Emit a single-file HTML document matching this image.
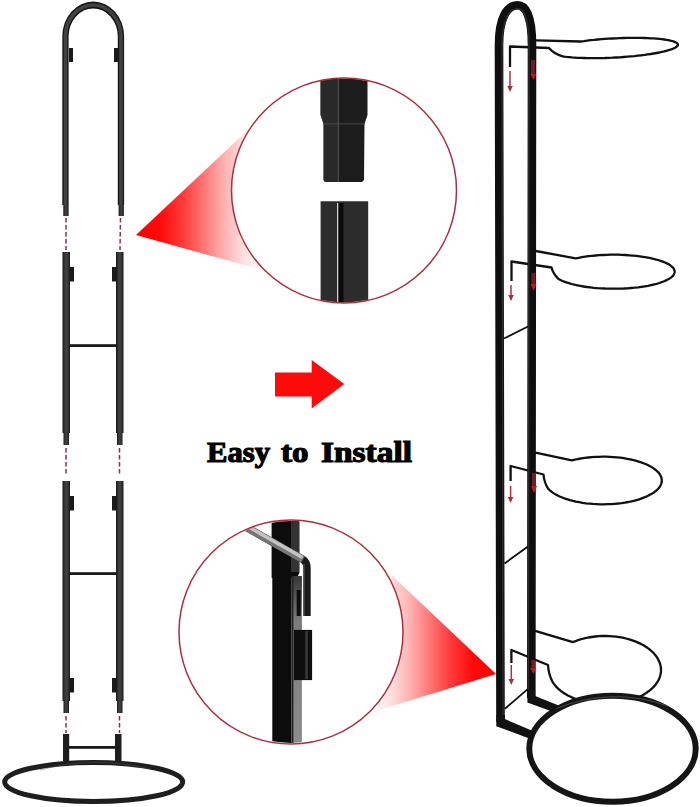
<!DOCTYPE html>
<html><head><meta charset="utf-8">
<style>
html,body{margin:0;padding:0;background:#fff;}
body{width:700px;height:807px;overflow:hidden;position:relative;font-family:"Liberation Serif",serif;}
svg{position:absolute;left:0;top:0;}
</style></head>
<body>
<svg width="700" height="807" viewBox="0 0 700 807">
<defs>
  <linearGradient id="g1" x1="136" y1="0" x2="255" y2="0" gradientUnits="userSpaceOnUse">
    <stop offset="0" stop-color="#ff0000"/>
    <stop offset="0.2" stop-color="#ff0a0a"/>
    <stop offset="0.4" stop-color="#ff3c3c"/>
    <stop offset="0.58" stop-color="#ff7a7a"/>
    <stop offset="0.75" stop-color="#ffb4b4"/>
    <stop offset="0.9" stop-color="#ffdede"/>
    <stop offset="1" stop-color="#fff2f2"/>
  </linearGradient>
  <linearGradient id="g2" x1="496" y1="0" x2="380" y2="0" gradientUnits="userSpaceOnUse">
    <stop offset="0" stop-color="#ff0000"/>
    <stop offset="0.2" stop-color="#ff0a0a"/>
    <stop offset="0.4" stop-color="#ff3c3c"/>
    <stop offset="0.58" stop-color="#ff7a7a"/>
    <stop offset="0.75" stop-color="#ffb4b4"/>
    <stop offset="0.9" stop-color="#ffdede"/>
    <stop offset="1" stop-color="#fff2f2"/>
  </linearGradient>
  <linearGradient id="tube" x1="0" y1="0" x2="1" y2="0">
    <stop offset="0" stop-color="#2a2a2a"/>
    <stop offset="0.5" stop-color="#444"/>
    <stop offset="1" stop-color="#2a2a2a"/>
  </linearGradient>
  <clipPath id="c1"><circle cx="344" cy="190.5" r="112"/></clipPath>
  <clipPath id="c2"><circle cx="291" cy="632" r="111"/></clipPath>
</defs>

<!-- ===== LEFT STAND ===== -->
<defs>
  <linearGradient id="tb" x1="0" y1="0" x2="1" y2="0">
    <stop offset="0" stop-color="#161616"/>
    <stop offset="0.2" stop-color="#2e2e2e"/>
    <stop offset="0.5" stop-color="#434343"/>
    <stop offset="0.8" stop-color="#303030"/>
    <stop offset="1" stop-color="#161616"/>
  </linearGradient>
</defs>
<g>
  <!-- arch -->
  <path d="M62.3,205 L62.3,36.5 A30.9,35 0 0 1 124.1,36.5 L124.1,205 L117.8,205 L117.8,36.5 A24.6,28.1 0 0 0 68.6,36.5 L68.6,205 Z" fill="#161616"/>
  <path d="M65.45,205 L65.45,36.5 A27.75,31.5 0 0 1 120.95,36.5 L120.95,205" fill="none" stroke="#414141" stroke-width="3.6"/>
  <rect x="63.3" y="205" width="5.3" height="11" fill="url(#tb)"/>
  <rect x="118.6" y="205" width="5.3" height="11" fill="url(#tb)"/>
  <rect x="69" y="48" width="4" height="14" fill="#1a1a1a"/>
  <rect x="114" y="48" width="4" height="14" fill="#1a1a1a"/>
  <!-- section 2 -->
  <rect x="62.5" y="252" width="7.5" height="181" fill="url(#tb)"/>
  <rect x="116" y="252" width="7.5" height="181" fill="url(#tb)"/>
  <rect x="63.5" y="433" width="5.5" height="12" fill="url(#tb)"/>
  <rect x="117" y="433" width="5.5" height="12" fill="url(#tb)"/>
  <rect x="69.5" y="267" width="4.5" height="14.5" fill="#1a1a1a"/>
  <rect x="112" y="267" width="4.5" height="14.5" fill="#1a1a1a"/>
  <rect x="69" y="344.2" width="48" height="2.8" fill="#1a1a1a"/>
  <!-- section 3 -->
  <rect x="62.5" y="481" width="7.5" height="220" fill="url(#tb)"/>
  <rect x="116" y="481" width="7.5" height="220" fill="url(#tb)"/>
  <rect x="63.5" y="701" width="5.5" height="12" fill="url(#tb)"/>
  <rect x="117" y="701" width="5.5" height="12" fill="url(#tb)"/>
  <rect x="69.5" y="496" width="4.5" height="14.5" fill="#1a1a1a"/>
  <rect x="112" y="496" width="4.5" height="14.5" fill="#1a1a1a"/>
  <rect x="69" y="572.2" width="48" height="2.8" fill="#1a1a1a"/>
  <rect x="69.5" y="678" width="4.5" height="14.5" fill="#1a1a1a"/>
  <rect x="112" y="678" width="4.5" height="14.5" fill="#1a1a1a"/>
  <!-- bottom stubs -->
  <rect x="63" y="734" width="6.2" height="27" fill="#1e1e1e"/>
  <rect x="115" y="734" width="6.5" height="27" fill="#1e1e1e"/>
  <rect x="69" y="746" width="46.5" height="2.8" fill="#1a1a1a"/>
</g>
<g stroke="#8e2f4a" stroke-width="1.5" stroke-dasharray="4.5 2.5">
  <line x1="66" y1="218" x2="66" y2="250"/>
  <line x1="120.5" y1="218" x2="120" y2="250"/>
  <line x1="66" y1="448" x2="66" y2="476"/>
  <line x1="119.5" y1="448" x2="119.5" y2="476"/>
  <line x1="66" y1="716" x2="66" y2="733"/>
  <line x1="119.5" y1="716" x2="119.5" y2="733"/>
</g>
<ellipse cx="93.7" cy="782" rx="89" ry="19.5" fill="none" stroke="#1e1e1e" stroke-width="5"/>

<!-- ===== TRIANGLES ===== -->
<polygon points="136,235 250,128 262,270" fill="url(#g1)"/>
<polygon points="496,674 392,575.5 376,711" fill="url(#g2)"/>

<!-- ===== CIRCLE 1 ===== -->
<circle cx="344" cy="190.5" r="112.5" fill="#fff"/>
<g clip-path="url(#c1)">
  <path d="M320.6,70 L367.5,70 L367.5,115 L364.5,124 L364,180 L362,182 L325,182 L323.6,180 L323.6,124 L320.6,115 Z" fill="#1d1d1d"/>
  <path d="M320.6,70 L338,70 L338,182 L325,182 L323.6,180 L323.6,124 L320.6,115 Z" fill="#292929"/>
  <rect x="337.8" y="76" width="1" height="106" fill="#5a5a5a"/>
  <rect x="323.6" y="123.5" width="41" height="0.8" fill="#555"/>
  <path d="M320.6,201.2 L368.2,201.2 L368.2,310 L320.6,310 Z" fill="#2c2c2c"/>
  <rect x="337" y="203" width="1.5" height="105" fill="#d0d0d0"/>
  <rect x="338.5" y="203" width="5" height="105" fill="#0a0a0a"/>
</g>
<circle cx="344" cy="190.5" r="112.5" fill="none" stroke="#a8303e" stroke-width="1.5"/>

<!-- ===== CIRCLE 2 ===== -->
<circle cx="291" cy="632" r="112" fill="#fff"/>
<defs>
  <linearGradient id="strip" x1="0" y1="579" x2="0" y2="742" gradientUnits="userSpaceOnUse">
    <stop offset="0" stop-color="#3a3a3a"/>
    <stop offset="0.25" stop-color="#7a7a7a"/>
    <stop offset="1" stop-color="#8c8c8c"/>
  </linearGradient>
</defs>
<g clip-path="url(#c2)">
  <path d="M271.6,515 L299.3,515 L299.3,573 L297,578 L271.6,578 Z" fill="#0c0c0c"/>
  <rect x="291" y="515" width="8.3" height="57" fill="#333"/>
  <rect x="272.3" y="577.5" width="19.3" height="172" fill="#0c0c0c"/>
  <rect x="291.6" y="576" width="10.3" height="173" fill="url(#strip)"/>
  <rect x="291.6" y="576" width="1.8" height="173" fill="#222"/>
  <path d="M244,526 L303,559.5 Q307,562 307,568 L307,616" fill="none" stroke="#1a1a1a" stroke-width="7.4" stroke-linejoin="round"/>
  <path d="M244,526 L303,559.5" fill="none" stroke="#767676" stroke-width="7.6"/>
  <path d="M244,524.3 L302.5,557.5" fill="none" stroke="#c4c4c4" stroke-width="3.4"/>
  <path d="M304,564 L304,616" fill="none" stroke="#555" stroke-width="1.2"/>
  <rect x="296.7" y="590" width="4" height="26" fill="#0c0c0c"/>
  <rect x="293.9" y="629.9" width="18.2" height="50.2" fill="#0e0e0e"/>
  <rect x="305.3" y="631" width="2.5" height="48" fill="#3a3a3a"/>
</g>
<circle cx="291" cy="632" r="112" fill="none" stroke="#a8303e" stroke-width="1.5"/>

<!-- ===== CENTER ARROW ===== -->
<polygon points="275,372.6 311.7,372.6 311.7,360 344.3,384 311.7,408.6 311.7,396.6 275,396.6" fill="#fd0b0b"/>

<!-- rings (thin wire) -->
<g fill="none" stroke="#111" stroke-width="2.3" stroke-linejoin="round">
  <path d="M536.0,40.4 L580.7,41.5 L584.0,41.1 L587.3,40.6 L590.7,40.2 L594.2,39.9 L597.7,39.5 L601.4,39.2 L605.0,38.9 L608.7,38.7 L612.4,38.5 L616.1,38.3 L619.8,38.1 L623.5,38.0 L627.1,37.9 L630.7,37.9 L634.3,37.8 L637.8,37.9 L641.2,37.9 L644.5,38.0 L647.7,38.1 L650.8,38.3 L653.7,38.4 L656.6,38.6 L659.3,38.9 L661.8,39.2 L664.2,39.5 L666.4,39.8 L668.4,40.2 L670.3,40.6 L671.9,41.0 L673.4,41.4 L674.7,41.9 L675.7,42.4 L676.6,42.8 L677.2,43.4 L677.7,43.9 L677.9,44.4 L677.9,45.0 L677.7,45.6 L677.2,46.1 L676.6,46.7 L675.8,47.3 L674.7,47.9 L673.4,48.5 L672.0,49.1 L670.3,49.7 L668.5,50.2 L666.4,50.8 L664.2,51.4 L661.9,51.9 L659.3,52.5 L656.6,53.0 L653.8,53.5 L650.8,54.0 L647.7,54.4 L644.5,54.9 L641.2,55.3 L637.8,55.7 L634.4,56.1 L630.8,56.4 L627.2,56.7 L623.6,57.0 L619.9,57.3 L616.2,57.5 L612.5,57.7 L608.8,57.8 L605.1,58.0 L601.4,58.1 L597.8,58.1 L594.3,58.2 L590.8,58.1 L587.4,58.1 L584.0,58.0 L580.8,57.9 L577.7,57.8 L574.7,57.6 L571.9,57.4 L569.1,57.1 L566.6,56.9 L564.2,56.6 L561.9,56.2 Q553.0,53.0 549.0,48.0 L510.0,46.5 L510.0,67.0"/>
  <path d="M535.7,251.0 L575.7,258.4 L578.8,257.8 L581.9,257.2 L585.2,256.7 L588.6,256.2 L592.1,255.8 L595.6,255.5 L599.3,255.2 L603.0,255.0 L606.7,254.8 L610.4,254.7 L614.2,254.7 L618.0,254.7 L621.7,254.8 L625.5,255.0 L629.1,255.3 L632.8,255.6 L636.3,255.9 L639.8,256.3 L643.1,256.8 L646.4,257.3 L649.5,257.9 L652.5,258.6 L655.3,259.3 L658.0,260.0 L660.5,260.8 L662.8,261.6 L665.0,262.5 L666.9,263.4 L668.7,264.3 L670.2,265.3 L671.5,266.3 L672.6,267.3 L673.5,268.3 L674.1,269.3 L674.5,270.4 L674.7,271.4 L674.6,272.5 L674.3,273.5 L673.8,274.6 L673.1,275.6 L672.1,276.6 L670.9,277.6 L669.5,278.6 L667.8,279.5 L666.0,280.4 L664.0,281.3 L661.7,282.2 L659.3,283.0 L656.7,283.8 L654.0,284.5 L651.1,285.1 L648.0,285.8 L644.8,286.3 L641.5,286.8 L638.1,287.3 L634.6,287.7 L631.0,288.0 L627.4,288.3 L623.7,288.5 L619.9,288.6 L616.2,288.7 L612.4,288.7 L608.6,288.6 L604.9,288.5 L601.2,288.3 L597.5,288.1 L593.9,287.8 L590.4,287.4 L586.9,287.0 L583.6,286.5 L580.4,285.9 L577.3,285.3 L574.3,284.7 L571.5,284.0 L568.9,283.2 L566.4,282.4 L564.1,281.6 L562.0,280.7 L560.1,279.8 L558.4,278.9 Q553.0,273.5 551.5,267.5 L511.5,261.5 L511.5,281.0"/>
  <path d="M534.3,452.4 L571.8,460.4 L574.9,459.7 L578.1,459.0 L581.4,458.4 L584.8,457.9 L588.3,457.5 L591.8,457.2 L595.4,456.9 L598.9,456.8 L602.6,456.7 L606.2,456.7 L609.8,456.8 L613.3,457.1 L616.9,457.4 L620.4,457.7 L623.8,458.2 L627.1,458.8 L630.4,459.4 L633.5,460.1 L636.5,460.9 L639.4,461.8 L642.2,462.7 L644.8,463.7 L647.3,464.8 L649.6,466.0 L651.7,467.1 L653.6,468.4 L655.4,469.7 L656.9,471.0 L658.3,472.3 L659.4,473.7 L660.3,475.2 L661.0,476.6 L661.5,478.0 L661.7,479.5 L661.8,481.0 L661.6,482.4 L661.2,483.9 L660.6,485.3 L659.7,486.8 L658.7,488.2 L657.4,489.5 L655.9,490.9 L654.3,492.2 L652.4,493.4 L650.3,494.6 L648.1,495.8 L645.7,496.9 L643.1,497.9 L640.4,498.9 L637.6,499.8 L634.6,500.6 L631.5,501.3 L628.3,502.0 L624.9,502.6 L621.6,503.1 L618.1,503.5 L614.6,503.8 L611.0,504.1 L607.4,504.2 L603.8,504.3 L600.2,504.3 L596.6,504.1 L593.0,503.9 L589.5,503.6 L586.0,503.3 L582.6,502.8 L579.3,502.2 L576.0,501.6 L572.9,500.9 L569.8,500.1 L566.9,499.2 L564.2,498.3 L561.6,497.2 L559.1,496.2 L556.8,495.0 L554.7,493.9 L552.8,492.6 L551.0,491.3 L549.5,490.0 L548.1,488.6 Q544.0,482.0 543.5,474.5 L510.6,466.0 L510.6,481.0"/>
  <path d="M534.3,630.7 L572.9,642.1 L575.8,641.0 L578.8,639.9 L581.9,639.0 L585.2,638.2 L588.5,637.5 L591.8,637.0 L595.2,636.5 L598.7,636.2 L602.1,636.0 L605.6,636.0 L609.1,636.1 L612.6,636.3 L616.0,636.7 L619.4,637.1 L622.7,637.7 L626.0,638.5 L629.2,639.3 L632.3,640.3 L635.2,641.4 L638.1,642.6 L640.9,643.9 L643.5,645.3 L645.9,646.8 L648.2,648.4 L650.3,650.0 L652.3,651.8 L654.1,653.6 L655.6,655.5 L657.0,657.4 L658.2,659.4 L659.2,661.5 L660.0,663.5 L660.5,665.6 L660.9,667.7 L661.0,669.8 L660.9,671.9 L660.6,674.0 L660.1,676.1 L659.4,678.2 L658.4,680.2 L657.3,682.2 L655.9,684.2 L654.4,686.1 L652.6,687.9 L650.7,689.7 L648.6,691.3 L646.3,692.9 L643.9,694.5 L641.3,695.9 L638.6,697.2 L635.8,698.4 L632.8,699.5 L629.7,700.5 L626.5,701.4 L623.3,702.1 L620.0,702.8 L616.6,703.3 L613.2,703.6 L609.7,703.9 L606.2,704.0 L602.7,704.0 L599.3,703.8 L595.8,703.5 L592.4,703.1 L589.0,702.6 L585.7,701.9 L582.5,701.1 L579.4,700.2 L576.3,699.2 L573.4,698.1 L570.6,696.8 L567.9,695.5 L565.4,694.0 L563.0,692.5 L560.8,690.8 L558.7,689.1 L556.8,687.4 L555.2,685.5 L553.7,683.6 L552.4,681.6 Q548.5,674.0 548.0,665.0 L511.4,650.0 L511.4,663.0"/>
</g>
<!-- base ring -->
<ellipse cx="612.5" cy="748.7" rx="83.2" ry="53" fill="#fff" stroke="#151515" stroke-width="6"/>

<path d="M555,709 Q612,686 668,706" fill="none" stroke="#5a5a5a" stroke-width="1" opacity="0.8"/>
<path d="M40,770 Q93,755 150,769" fill="none" stroke="#555" stroke-width="0.8" opacity="0.6"/>
<!-- ===== RIGHT STRUCTURE ===== -->
<g fill="none" stroke="#0e0e0e" stroke-linecap="butt" stroke-linejoin="miter">
  <!-- left post + arch + right post -->
  <path d="M500.5,722 L499,45 C499,18 507,5.3 517.5,5.3 C527,5.3 532,20 532,45 L531.3,698" stroke-width="8.6"/>
  <path d="M503,720 L502,45 C502,22 509,8.5 517.5,8.5 C525,8.5 529,22 529,45 L528.3,695" stroke="#2c2c2c" stroke-width="1.4" fill="none"/>
  <!-- bottom bars -->
  <polygon points="496.3,726.2 504.9,719.1 534,731.6 532,739.6" fill="#121212" stroke="none"/>
  <polygon points="527.4,702.4 535.1,696 560,706 552,711.5" fill="#121212" stroke="none"/>
  <rect x="496.3" y="715" width="8.6" height="11.2" fill="#121212" stroke="none"/>
  <rect x="527.4" y="690" width="7.7" height="12.4" fill="#121212" stroke="none"/>
  <!-- diagonal wires -->
  <line x1="504" y1="338.5" x2="528" y2="326.5" stroke-width="1.8"/>
  <line x1="504.5" y1="563.5" x2="528" y2="546.5" stroke-width="1.8"/>
  <line x1="504.9" y1="708.8" x2="528" y2="688.9" stroke-width="1.8"/>
</g>
<!-- red arrows -->
<g stroke="#a8303e" stroke-width="1.5" fill="#a8303e">
  <line x1="510" y1="71" x2="510" y2="87"/>
  <polygon points="507.2,86 512.8,86 510,92" stroke="none"/>
  <line x1="511" y1="285" x2="511" y2="296"/>
  <polygon points="508.2,295 513.8,295 511,301" stroke="none"/>
  <line x1="510.6" y1="486" x2="510.6" y2="498"/>
  <polygon points="507.8,497 513.4,497 510.6,503" stroke="none"/>
  <line x1="511.3" y1="665" x2="511.3" y2="680"/>
  <polygon points="508.5,679 514.1,679 511.3,685" stroke="none"/>
</g>
<g>
  <rect x="531" y="60" width="4" height="15" fill="#701c26"/>
  <polygon points="530.3,74 536.3,74 533.3,80" fill="#b81a22"/>
  <rect x="531.5" y="273" width="4" height="12" fill="#701c26"/>
  <polygon points="530.5,284 536.5,284 533.5,291" fill="#b81a22"/>
  <rect x="532" y="473" width="4" height="13" fill="#701c26"/>
  <polygon points="531,486 537,486 534,493" fill="#b81a22"/>
  <rect x="531.3" y="660" width="4" height="9" fill="#701c26"/>
  <polygon points="530.3,668 536.3,668 533.3,674" fill="#b81a22"/>
</g>
<g font-family="Liberation Serif" font-weight="bold" font-size="29" fill="#000" stroke="#000" stroke-width="1.15">
  <text x="207" y="461.5" textLength="63" lengthAdjust="spacingAndGlyphs">Easy</text>
  <text x="281" y="461.5" textLength="27.5" lengthAdjust="spacingAndGlyphs">to</text>
  <text x="321" y="461.5" textLength="91" lengthAdjust="spacingAndGlyphs">Install</text>
</g>
</svg>
</body></html>
